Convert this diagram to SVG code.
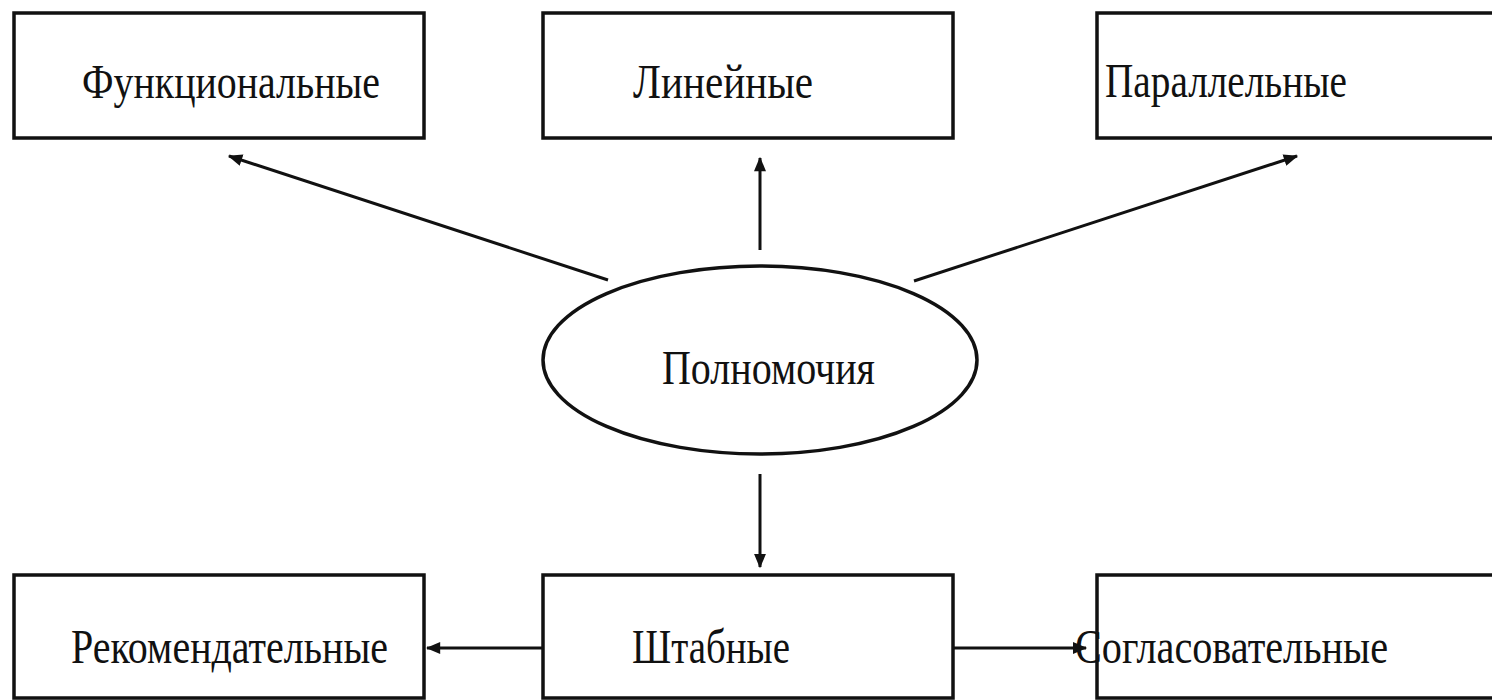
<svg xmlns="http://www.w3.org/2000/svg" width="1492" height="700" viewBox="0 0 1492 700">
<style>
.box{fill:#fff;stroke:#111;stroke-width:3.5}
.ell{fill:#fff;stroke:#111;stroke-width:3.5}
.lbl{font-family:"Liberation Serif","Times New Roman",serif;font-size:48px;fill:#111}
.conn{stroke:#111;stroke-width:3;fill:none;marker-end:url(#ah)}
</style>
<defs>
<marker id="ah" viewBox="0 0 12 10" refX="11" refY="5" markerWidth="5" markerHeight="4" markerUnits="strokeWidth" orient="auto">
<path d="M0,0 L12,5 L0,10 Z" fill="#111"/>
</marker>
</defs>
<rect width="1492" height="700" fill="#fff"/>
<g id="connectors">
<line class="conn" x1="608" y1="280" x2="229" y2="156"/>
<line class="conn" x1="760" y1="250" x2="760" y2="158"/>
<line class="conn" x1="914" y1="281" x2="1297" y2="156"/>
<line class="conn" x1="760" y1="474" x2="760" y2="567"/>
<line class="conn" x1="543" y1="648" x2="427" y2="648"/>
<line class="conn" x1="953" y1="648" x2="1086" y2="648"/>
</g>
<g id="n-func">
<rect class="box" x="14" y="13" width="410" height="125"/>
<text class="lbl" x="82" y="98" textLength="298" lengthAdjust="spacingAndGlyphs">Функциональные</text>
</g>
<g id="n-lin">
<rect class="box" x="543" y="13" width="410" height="125"/>
<text class="lbl" x="633" y="98" textLength="180" lengthAdjust="spacingAndGlyphs">Линейные</text>
</g>
<g id="n-par">
<rect class="box" x="1097" y="13" width="420" height="125"/>
<text class="lbl" x="1105" y="97" textLength="242" lengthAdjust="spacingAndGlyphs">Параллельные</text>
</g>
<g id="n-poln">
<ellipse class="ell" cx="760" cy="360" rx="217" ry="94"/>
<text class="lbl" x="662" y="384" textLength="213" lengthAdjust="spacingAndGlyphs">Полномочия</text>
</g>
<g id="n-rek">
<rect class="box" x="14" y="575" width="410" height="123"/>
<text class="lbl" x="71" y="663" textLength="317" lengthAdjust="spacingAndGlyphs">Рекомендательные</text>
</g>
<g id="n-shtab">
<rect class="box" x="543" y="575" width="410" height="123"/>
<text class="lbl" x="632" y="663" textLength="158" lengthAdjust="spacingAndGlyphs">Штабные</text>
</g>
<g id="n-sogl">
<rect class="box" x="1097" y="575" width="420" height="123"/>
<text class="lbl" x="1075" y="663" textLength="313" lengthAdjust="spacingAndGlyphs">Согласовательные</text>
</g>
</svg>
